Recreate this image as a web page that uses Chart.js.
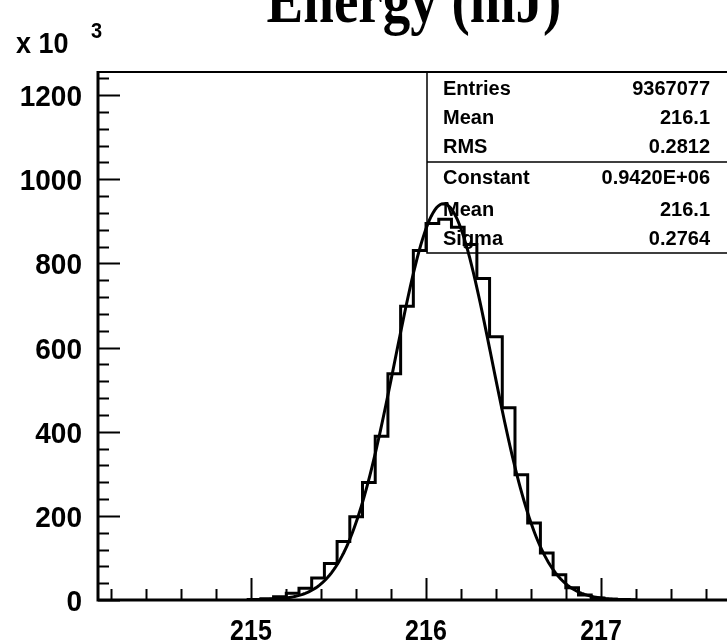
<!DOCTYPE html>
<html>
<head>
<meta charset="utf-8">
<script src="https://cdn.jsdelivr.net/npm/chart.js@4/dist/chart.umd.min.js"></script>
<style>
    html, body { margin: 0; padding: 0; background: #fff; overflow: hidden; }
    #wrap { width: 727px; height: 642px; overflow: hidden; }
</style>
</head>
<body>
<div id="wrap"><canvas id="energyChart" width="760" height="642"></canvas></div>
<script>
    //histogram bins, counts in units of 10^3
    const histLow = 214.984;
    const binWidth = 0.0726;
    const binCounts = [1, 3, 8, 16, 28, 52, 87, 139, 198, 279, 389, 538, 698, 831, 895,
                       905, 886, 845, 764, 626, 457, 298, 183, 112, 60, 29, 12, 5, 2, 1];

    //gaussian fit parameters (from the stats box)
    const fitConstant = 942.0;
    const fitMean = 216.1;
    const fitSigma = 0.2764;
    const fitRange = [215.0, 217.2];

    //axes
    const xRange = [214.126, 217.8];
    const yRange = [0, 1255];
    const xTickLabels = [215, 216, 217];
    const yTickLabels = [0, 200, 400, 600, 800, 1000, 1200];

    //stats box texts
    const statsRows = [['Entries', '9367077'], ['Mean', '216.1'], ['RMS', '0.2812']];
    const fitRows = [['Constant', '0.9420E+06'], ['Mean', '216.1'], ['Sigma', '0.2764']];

    //build histogram outline points (left edge of each bin)
    let histPoints = [{ x: histLow, y: 0 }];
    binCounts.forEach((c, i) => {
        histPoints.push({ x: histLow + i * binWidth, y: c });
    });
    histPoints.push({ x: histLow + binCounts.length * binWidth, y: 0 });

    //fit curve points from the fit parameters
    let fitPoints = [];
    for (let xv = fitRange[0]; xv <= fitRange[1] + 1e-9; xv += 0.01) {
        let z = (xv - fitMean) / fitSigma;
        fitPoints.push({ x: xv, y: fitConstant * Math.exp(-0.5 * z * z) });
    }

    const FONT = '"Liberation Sans", Arial, Helvetica, sans-serif';

    //draw text stretched like the ROOT fonts
    function tallText(ctx, text, x, y, size, align, stretch) {
        ctx.save();
        ctx.translate(x, y);
        ctx.scale(1, stretch);
        ctx.font = 'bold ' + size + 'px ' + FONT;
        ctx.textAlign = align;
        ctx.textBaseline = 'alphabetic';
        ctx.fillText(text, 0, 0);
        ctx.restore();
    }

    const rootStyle = {
        id: 'rootStyle',
        afterDatasetsDraw(chart) {
            const { ctx, chartArea: a, scales } = chart;
            const xs = scales.x, ys = scales.y;
            ctx.save();
            ctx.strokeStyle = '#000';
            ctx.fillStyle = '#000';

            //frame top
            ctx.lineWidth = 2;
            ctx.beginPath();
            ctx.moveTo(a.left, a.top);
            ctx.lineTo(a.right, a.top);
            ctx.stroke();

            //axes
            ctx.lineWidth = 3;
            ctx.beginPath();
            ctx.moveTo(a.left, a.top - 1);
            ctx.lineTo(a.left, a.bottom);
            ctx.lineTo(a.right, a.bottom);
            ctx.stroke();

            //x ticks (inside)
            ctx.lineWidth = 2;
            for (let v = 214.2; v < xRange[1]; v += 0.2) {
                let px = Math.round(xs.getPixelForValue(v)) + 0.5;
                let major = Math.abs(v - Math.round(v)) < 1e-6;
                ctx.beginPath();
                ctx.moveTo(px, a.bottom);
                ctx.lineTo(px, a.bottom - (major ? 22 : 11));
                ctx.stroke();
            }
            //y ticks (inside)
            for (let v = 0; v <= yRange[1]; v += 40) {
                let py = Math.round(ys.getPixelForValue(v)) + 0.5;
                let major = v % 200 === 0;
                ctx.beginPath();
                ctx.moveTo(a.left, py);
                ctx.lineTo(a.left + (major ? 22 : 11), py);
                ctx.stroke();
            }

            //tick labels
            xTickLabels.forEach(v => {
                tallText(ctx, String(v), xs.getPixelForValue(v), a.bottom + 40, 25, 'center', 1.2);
            });
            yTickLabels.forEach(v => {
                tallText(ctx, String(v), a.left - 16, ys.getPixelForValue(v) + 11, 28, 'right', 1.08);
            });

            //exponent
            tallText(ctx, 'x 10', 16, 53, 27, 'left', 1.1);
            tallText(ctx, '3', 91, 38, 20, 'left', 1.1);

            //title
            ctx.save();
            ctx.translate(414, 22);
            ctx.scale(1, 1.2);
            ctx.font = 'bold 55px "Liberation Serif", "Times New Roman", serif';
            ctx.textAlign = 'center';
            ctx.fillText('Energy (mJ)', 0, 0);
            ctx.restore();

            //stats box
            const boxL = 427, boxT = a.top, boxSep = 162, boxB = 253, boxR = a.right;
            ctx.lineWidth = 1.5;
            ctx.beginPath();
            ctx.moveTo(boxL, boxT);
            ctx.lineTo(boxL, boxB);
            ctx.lineTo(boxR, boxB);
            ctx.moveTo(boxL, boxSep);
            ctx.lineTo(boxR, boxSep);
            ctx.stroke();

            ctx.font = 'bold 20px ' + FONT;
            const baselines = [95, 124, 153, 184, 216, 245];
            statsRows.concat(fitRows).forEach((row, i) => {
                ctx.textAlign = 'left';
                ctx.fillText(row[0], 443, baselines[i]);
                ctx.textAlign = 'right';
                ctx.fillText(row[1], 710, baselines[i]);
            });

            ctx.restore();
        }
    };

    let ctx = document.getElementById('energyChart').getContext('2d');

    let energyChart = new Chart(ctx, {
        type: 'line',
        data: {
            datasets: [{
                label: 'Energy',
                data: histPoints,
                stepped: 'before',
                borderColor: '#000',
                borderWidth: 3,
                pointRadius: 0,
                fill: false
            }, {
                label: 'Gaussian fit',
                data: fitPoints,
                borderColor: '#000',
                borderWidth: 3,
                pointRadius: 0,
                tension: 0,
                fill: false
            }]
        },
        options: {
            responsive: false,
            animation: false,
            devicePixelRatio: 1,
            layout: { padding: { top: 72, right: 19, left: 0, bottom: 0 } },
            plugins: {
                legend: { display: false },
                tooltip: { enabled: false },
                title: { display: false }
            },
            scales: {
                x: {
                    type: 'linear',
                    min: xRange[0],
                    max: xRange[1],
                    grid: { display: false },
                    border: { display: false },
                    ticks: { display: false },
                    afterFit: (scale) => { scale.height = 42; }
                },
                y: {
                    type: 'linear',
                    min: yRange[0],
                    max: yRange[1],
                    grid: { display: false },
                    border: { display: false },
                    ticks: { display: false },
                    afterFit: (scale) => { scale.width = 98; }
                }
            }
        },
        plugins: [rootStyle]
    });
</script>
</body>
</html>
